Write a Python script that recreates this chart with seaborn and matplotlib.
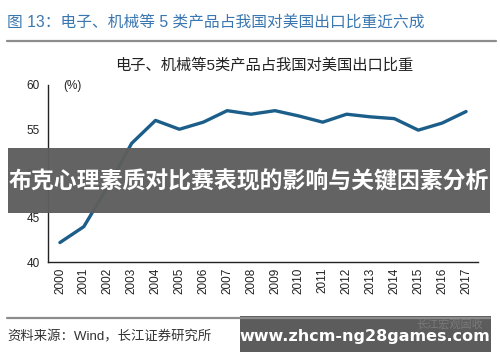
import matplotlib
matplotlib.use("Agg")
import matplotlib.pyplot as plt
import seaborn as sns
import pandas as pd
from matplotlib.patches import Rectangle
from matplotlib.lines import Line2D

years = [str(y) for y in range(2000, 2018)]
share = [42.2, 44.0, 48.5, 53.4, 56.0, 55.0, 55.8, 57.1, 56.7,
         57.1, 56.5, 55.8, 56.7, 56.4, 56.2, 54.9, 55.7, 57.0]
y_ticks = [40, 45, 50, 55, 60]

fig_title = "图 13：电子、机械等 5 类产品占我国对美国出口比重近六成"
chart_title = "电子、机械等5类产品占我国对美国出口比重"
unit_label = "(%)"
source = "资料来源：Wind，长江证券研究所"
banner = "布克心理素质对比赛表现的影响与关键因素分析"
url = "www.zhcm-ng28games.com"
faint = "长江宏观固收"

sns.set_style("white")
plt.rcParams['font.family'] = ['Liberation Sans', 'Noto Sans CJK SC', 'DejaVu Sans']

df = pd.DataFrame({"pos": range(len(years)), "share": share})

fig = plt.figure(figsize=(5.0, 3.62), dpi=100)
ax = fig.add_axes([0.096, 0.2762, 0.86, 0.489])
sns.lineplot(data=df, x="pos", y="share", ax=ax, color="#1b5e8a", linewidth=2.4)
ax.set_xlim(-0.5, len(years) - 0.5)
ax.set_ylim(40, 60)
ax.set_yticks(y_ticks)
ax.set_yticklabels([str(v) for v in y_ticks], fontsize=8.5, color="#222222")
ax.set_xticks([i - 0.5 for i in range(len(years) + 1)])
ax.set_xticklabels([])
ax.set_xticks(list(range(len(years))), minor=True)
ax.set_xticklabels(years, minor=True, rotation=90, fontsize=8.5, color="#222222")
ax.tick_params(axis="x", which="major", direction="out", length=4, width=1, color="#222222")
ax.tick_params(axis="x", which="minor", length=0, pad=4)
ax.tick_params(axis="y", direction="out", length=4, width=1, color="#222222", pad=2)
ax.set_xlabel("")
ax.set_ylabel("")
for s in ["top", "right"]:
    ax.spines[s].set_visible(False)
for s in ["left", "bottom"]:
    ax.spines[s].set_color("#222222")
    ax.spines[s].set_linewidth(1.0)

W, H = 500.0, 362.0
def fx(x): return x / W
def fy(y): return 1 - y / H

fig.text(fx(7), fy(23), fig_title, fontsize=11.3, color="#3a77b0", va="center", ha="left")
fig.add_artist(Line2D([fx(7), fx(496)], [fy(41), fy(41)], color="#8c8c8c", linewidth=1.6))
fig.text(fx(264), fy(65), chart_title, fontsize=11, color="#222222", va="center", ha="center")
fig.text(fx(63), fy(86), unit_label, fontsize=8.5, color="#222222", va="center", ha="left")
fig.add_artist(Line2D([fx(7), fx(490)], [fy(318), fy(318)], color="#8c8c8c", linewidth=1.6))
fig.text(fx(7), fy(337), source, fontsize=9.6, color="#333333", va="center", ha="left")

# overlays
fig.add_artist(Rectangle((fx(8), fy(213)), fx(482), 65 / H, facecolor="#5e5e5e", edgecolor="none", alpha=0.97))
fig.text(fx(249), fy(182), banner, fontsize=16.5, color="white", fontweight="bold", va="center", ha="center")
fig.add_artist(Rectangle((fx(240), fy(352)), fx(251), 36 / H, facecolor="#5c5c5c", edgecolor="none"))
fig.text(fx(450), fy(324), faint, fontsize=8, color="#7a7a7a", va="center", ha="center")
fig.text(fx(365), fy(337), url, fontsize=11.5, color="white", fontweight="bold", va="center", ha="center",
         family=["DejaVu Sans"])

fig.savefig("out.png", dpi=100)
